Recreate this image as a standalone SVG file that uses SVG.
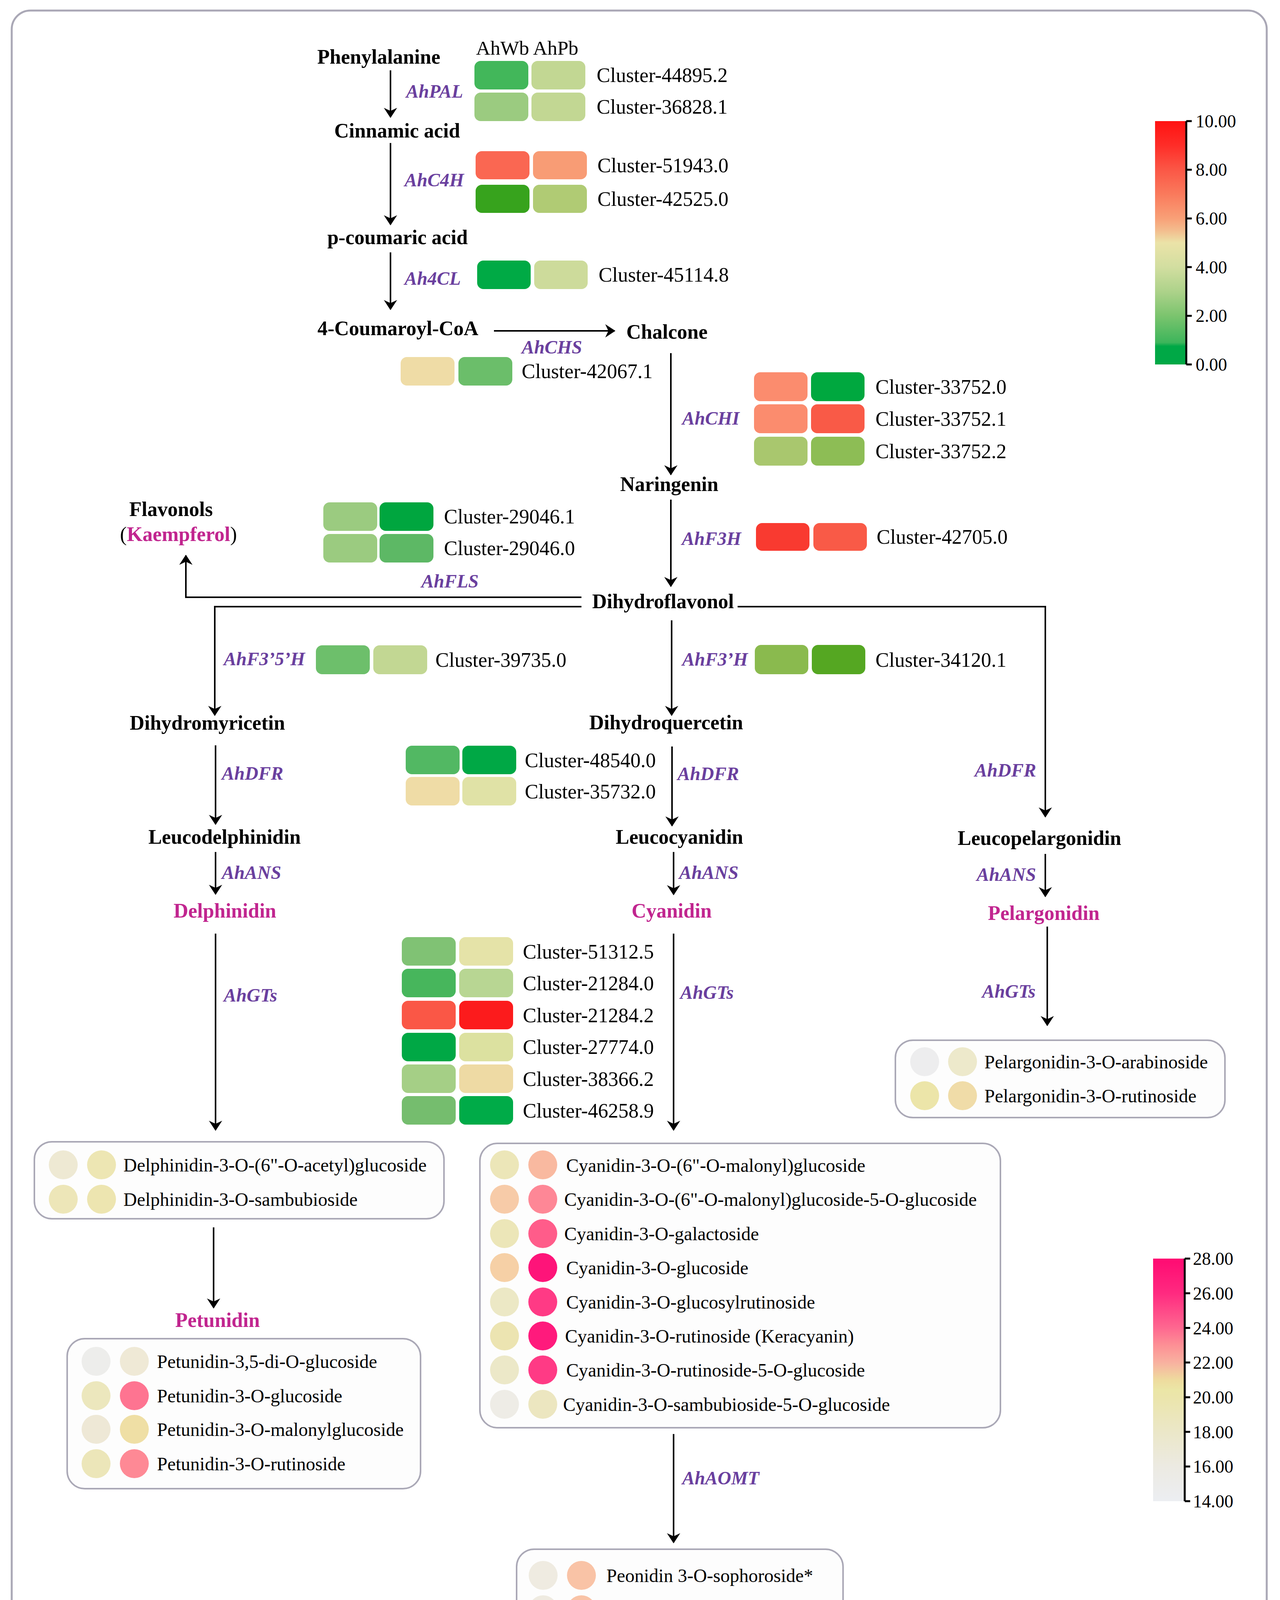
<svg xmlns="http://www.w3.org/2000/svg" width="3278" height="4351" viewBox="0 0 3278 4351">
<defs>
<style>
text{font-family:"Liberation Serif","Times New Roman",serif;}
.m{font-weight:bold;font-size:52px;fill:#000;text-anchor:middle;}
.mg{font-weight:bold;font-size:52px;fill:#c1258f;text-anchor:middle;}
.g{font-weight:bold;font-style:italic;font-size:48px;fill:#6a3f9e;}
.c{font-size:52px;fill:#000;}
.b{font-size:48px;fill:#000;}
.t{font-size:46px;fill:#000;}
.box{fill:#fdfdfd;stroke:#aaa8b6;stroke-width:4;}
.arr{stroke:#000;stroke-width:4;fill:none;marker-end:url(#ah);}
.ax{stroke:#000;stroke-width:5;fill:none;}
</style>
<marker id="ah" viewBox="0 0 26 34" refX="24" refY="17" markerWidth="26" markerHeight="34" orient="auto" markerUnits="userSpaceOnUse">
<path d="M0,0 L26,17 L0,34 L8,17 z" fill="#000"/>
</marker>
<linearGradient id="gr1" x1="0" y1="0" x2="0" y2="1">
<stop offset="0" stop-color="#ff1212"/>
<stop offset="0.1" stop-color="#fe2d28"/>
<stop offset="0.2" stop-color="#fb5746"/>
<stop offset="0.3" stop-color="#fa7a5c"/>
<stop offset="0.4" stop-color="#f8a077"/>
<stop offset="0.45" stop-color="#f3bd8e"/>
<stop offset="0.5" stop-color="#ebe3a8"/>
<stop offset="0.6" stop-color="#d2dea0"/>
<stop offset="0.7" stop-color="#add28a"/>
<stop offset="0.8" stop-color="#7bc46e"/>
<stop offset="0.91" stop-color="#3db55b"/>
<stop offset="0.925" stop-color="#00a846"/>
<stop offset="1" stop-color="#00a846"/>
</linearGradient>
<linearGradient id="gr2" x1="0" y1="0" x2="0" y2="1">
<stop offset="0" stop-color="#ff0a72"/>
<stop offset="0.143" stop-color="#ff2a80"/>
<stop offset="0.286" stop-color="#fe6890"/>
<stop offset="0.357" stop-color="#fd9095"/>
<stop offset="0.43" stop-color="#f8b2a0"/>
<stop offset="0.5" stop-color="#eedb9e"/>
<stop offset="0.54" stop-color="#ebe6a6"/>
<stop offset="0.571" stop-color="#ebe5ab"/>
<stop offset="0.714" stop-color="#ebe7c8"/>
<stop offset="0.857" stop-color="#eceae2"/>
<stop offset="1" stop-color="#eceef2"/>
</linearGradient>
</defs>

<rect id="frame" x="30" y="27" width="3214" height="4293" rx="48" fill="#fff" stroke="#aaa8b6" stroke-width="5"/>

<!-- connectors -->
<g id="connectors">
<line class="arr" x1="1000" y1="180" x2="1000" y2="300"/>
<line class="arr" x1="1000" y1="366" x2="1000" y2="575"/>
<line class="arr" x1="1000" y1="646" x2="1000" y2="792"/>
<line class="arr" x1="1265" y1="847" x2="1574" y2="847" stroke-width="5"/>
<line class="arr" x1="1718" y1="904" x2="1718" y2="1215"/>
<line class="arr" x1="1718" y1="1279" x2="1718" y2="1501"/>
<polyline class="arr" points="1489,1529 476,1529 476,1422"/>
<polyline class="arr" points="1489,1553 550,1553 550,1831"/>
<line class="arr" x1="1720" y1="1588" x2="1720" y2="1831"/>
<polyline class="arr" points="1889,1553 2677,1553 2677,2091"/>
<line class="arr" x1="552" y1="1908" x2="552" y2="2110"/>
<line class="arr" x1="1721" y1="1911" x2="1721" y2="2114"/>
<line class="arr" x1="552" y1="2181" x2="552" y2="2289"/>
<line class="arr" x1="1725" y1="2181" x2="1725" y2="2290"/>
<line class="arr" x1="2677" y1="2186" x2="2677" y2="2295"/>
<line class="arr" x1="552" y1="2390" x2="552" y2="2893"/>
<line class="arr" x1="1725" y1="2390" x2="1725" y2="2893"/>
<line class="arr" x1="2682" y1="2372" x2="2682" y2="2625"/>
<line class="arr" x1="547" y1="3142" x2="547" y2="3348"/>
<line class="arr" x1="1725" y1="3671" x2="1725" y2="3949"/>
</g>

<!-- metabolite nodes -->
<g id="n-phenylalanine"><text class="m" x="970" y="163">Phenylalanine</text></g>
<g id="n-cinnamic"><text class="m" x="1017" y="352">Cinnamic acid</text></g>
<g id="n-pcoumaric"><text class="m" x="1018" y="625">p-coumaric acid</text></g>
<g id="n-coumaroylcoa"><text class="m" x="1019" y="858">4-Coumaroyl-CoA</text></g>
<g id="n-chalcone"><text class="m" x="1708" y="867">Chalcone</text></g>
<g id="n-naringenin"><text class="m" x="1714" y="1257">Naringenin</text></g>
<g id="n-flavonols"><text class="m" x="438" y="1321">Flavonols</text>
<text class="m" x="457" y="1385"><tspan font-weight="normal">(</tspan><tspan fill="#c1258f">Kaempferol</tspan><tspan font-weight="normal">)</tspan></text></g>
<g id="n-dihydroflavonol"><text class="m" x="1698" y="1557">Dihydroflavonol</text></g>
<g id="n-dihydromyricetin"><text class="m" x="531" y="1868">Dihydromyricetin</text></g>
<g id="n-dihydroquercetin"><text class="m" x="1706" y="1867">Dihydroquercetin</text></g>
<g id="n-leucodelphinidin"><text class="m" x="575" y="2160">Leucodelphinidin</text></g>
<g id="n-leucocyanidin"><text class="m" x="1740" y="2160">Leucocyanidin</text></g>
<g id="n-leucopelargonidin"><text class="m" x="2662" y="2163">Leucopelargonidin</text></g>
<g id="n-delphinidin"><text class="mg" x="576" y="2349">Delphinidin</text></g>
<g id="n-cyanidin"><text class="mg" x="1720" y="2349">Cyanidin</text></g>
<g id="n-pelargonidin"><text class="mg" x="2673" y="2355">Pelargonidin</text></g>
<g id="n-petunidin"><text class="mg" x="557" y="3397">Petunidin</text></g>

<!-- gene labels -->
<g id="genes">
<text class="g" x="1040" y="250">AhPAL</text>
<text class="g" x="1036" y="477">AhC4H</text>
<text class="g" x="1036" y="729">Ah4CL</text>
<text class="g" x="1336" y="905">AhCHS</text>
<text class="g" x="1747" y="1087">AhCHI</text>
<text class="g" x="1746" y="1395">AhF3H</text>
<text class="g" x="1079" y="1504">AhFLS</text>
<text class="g" x="573" y="1703">AhF3’5’H</text>
<text class="g" x="1747" y="1704">AhF3’H</text>
<text class="g" x="568" y="1996">AhDFR</text>
<text class="g" x="1735" y="1997">AhDFR</text>
<text class="g" x="2496" y="1988">AhDFR</text>
<text class="g" x="568" y="2250">AhANS</text>
<text class="g" x="1739" y="2250">AhANS</text>
<text class="g" x="2501" y="2255">AhANS</text>
<text class="g" x="573" y="2564">AhGTs</text>
<text class="g" x="1742" y="2557">AhGTs</text>
<text class="g" x="2515" y="2554">AhGTs</text>
<text class="g" x="1747" y="3800">AhAOMT</text>
</g>

<!-- heatmaps -->
<g id="hm-header"><text x="1219" y="140" font-size="51">AhWb AhPb</text></g>
<g id="hm-pal">
<rect x="1215" y="156" width="138" height="73" rx="16" fill="#42b75a"/><rect x="1361" y="156" width="138" height="73" rx="16" fill="#c2d793"/>
<text class="c" x="1528" y="210">Cluster-44895.2</text>
<rect x="1215" y="237" width="138" height="73" rx="16" fill="#9bcb80"/><rect x="1361" y="237" width="138" height="73" rx="16" fill="#c2d793"/>
<text class="c" x="1528" y="291">Cluster-36828.1</text>
</g>
<g id="hm-c4h">
<rect x="1218" y="387" width="138" height="72" rx="16" fill="#fa6752"/><rect x="1365" y="387" width="138" height="72" rx="16" fill="#f89c75"/>
<text class="c" x="1530" y="441">Cluster-51943.0</text>
<rect x="1218" y="473" width="138" height="72" rx="16" fill="#37a31d"/><rect x="1365" y="473" width="138" height="72" rx="16" fill="#b0cb74"/>
<text class="c" x="1530" y="527">Cluster-42525.0</text>
</g>
<g id="hm-4cl">
<rect x="1222" y="667" width="137" height="73" rx="16" fill="#00aa45"/><rect x="1368" y="667" width="137" height="73" rx="16" fill="#cddb9b"/>
<text class="c" x="1533" y="721">Cluster-45114.8</text>
</g>
<g id="hm-chs">
<rect x="1026" y="914" width="138" height="73" rx="16" fill="#efdca6"/><rect x="1174" y="914" width="138" height="73" rx="16" fill="#6bbe6a"/>
<text class="c" x="1336" y="968">Cluster-42067.1</text>
</g>
<g id="hm-chi">
<rect x="1931" y="953" width="137" height="74" rx="16" fill="#fb8c6e"/><rect x="2077" y="953" width="137" height="74" rx="16" fill="#00a83f"/>
<text class="c" x="2242" y="1008">Cluster-33752.0</text>
<rect x="1931" y="1035" width="137" height="74" rx="16" fill="#fb8c6e"/><rect x="2077" y="1035" width="137" height="74" rx="16" fill="#f95a47"/>
<text class="c" x="2242" y="1090">Cluster-33752.1</text>
<rect x="1931" y="1118" width="137" height="74" rx="16" fill="#a9c76e"/><rect x="2077" y="1118" width="137" height="74" rx="16" fill="#8dbd55"/>
<text class="c" x="2242" y="1173">Cluster-33752.2</text>
</g>
<g id="hm-fls">
<rect x="828" y="1286" width="138" height="73" rx="16" fill="#9bcb80"/><rect x="972" y="1286" width="138" height="73" rx="16" fill="#00a63f"/>
<text class="c" x="1137" y="1340">Cluster-29046.1</text>
<rect x="828" y="1367" width="138" height="73" rx="16" fill="#9bcb80"/><rect x="972" y="1367" width="138" height="73" rx="16" fill="#5db865"/>
<text class="c" x="1137" y="1421">Cluster-29046.0</text>
</g>
<g id="hm-f3h">
<rect x="1936" y="1339" width="137" height="71" rx="16" fill="#f93a30"/><rect x="2083" y="1339" width="137" height="71" rx="16" fill="#f95a47"/>
<text class="c" x="2245" y="1392">Cluster-42705.0</text>
</g>
<g id="hm-f35h">
<rect x="809" y="1652" width="138" height="74" rx="16" fill="#6dbf6b"/><rect x="956" y="1652" width="138" height="74" rx="16" fill="#c2d793"/>
<text class="c" x="1115" y="1707">Cluster-39735.0</text>
</g>
<g id="hm-f3ph">
<rect x="1933" y="1651" width="137" height="75" rx="16" fill="#8aba4e"/><rect x="2079" y="1651" width="137" height="75" rx="16" fill="#55a722"/>
<text class="c" x="2242" y="1707">Cluster-34120.1</text>
</g>
<g id="hm-dfr">
<rect x="1039" y="1909" width="138" height="73" rx="16" fill="#52b863"/><rect x="1184" y="1909" width="138" height="73" rx="16" fill="#00a845"/>
<text class="c" x="1344" y="1964">Cluster-48540.0</text>
<rect x="1039" y="1989" width="138" height="73" rx="16" fill="#efdca6"/><rect x="1184" y="1989" width="138" height="73" rx="16" fill="#e0e2a6"/>
<text class="c" x="1344" y="2044">Cluster-35732.0</text>
</g>
<g id="hm-gts">
<rect x="1029" y="2399" width="138" height="73" rx="16" fill="#80c274"/><rect x="1176" y="2399" width="138" height="73" rx="16" fill="#e5e3a8"/>
<text class="c" x="1339" y="2454">Cluster-51312.5</text>
<rect x="1029" y="2480" width="138" height="73" rx="16" fill="#47b65c"/><rect x="1176" y="2480" width="138" height="73" rx="16" fill="#b8d693"/>
<text class="c" x="1339" y="2535">Cluster-21284.0</text>
<rect x="1029" y="2562" width="138" height="73" rx="16" fill="#fa5746"/><rect x="1176" y="2562" width="138" height="73" rx="16" fill="#fc1b1c"/>
<text class="c" x="1339" y="2617">Cluster-21284.2</text>
<rect x="1029" y="2644" width="138" height="73" rx="16" fill="#00a845"/><rect x="1176" y="2644" width="138" height="73" rx="16" fill="#dce1a0"/>
<text class="c" x="1339" y="2698">Cluster-27774.0</text>
<rect x="1029" y="2725" width="138" height="73" rx="16" fill="#a5cf86"/><rect x="1176" y="2725" width="138" height="73" rx="16" fill="#eedaa4"/>
<text class="c" x="1339" y="2780">Cluster-38366.2</text>
<rect x="1029" y="2806" width="138" height="73" rx="16" fill="#75bd6e"/><rect x="1176" y="2806" width="138" height="73" rx="16" fill="#00ab48"/>
<text class="c" x="1339" y="2861">Cluster-46258.9</text>
</g>

<!-- metabolite boxes -->
<g id="box-delphinidin">
<rect class="box" x="88" y="2923" width="1049" height="197" rx="45"/>
<circle cx="162" cy="2982" r="37" fill="#eee9d3"/><circle cx="260" cy="2982" r="37" fill="#ede6b3"/>
<text class="b" x="316" y="2999">Delphinidin-3-O-(6"-O-acetyl)glucoside</text>
<circle cx="162" cy="3070" r="37" fill="#ede6b8"/><circle cx="260" cy="3070" r="37" fill="#ede5b0"/>
<text class="b" x="316" y="3087">Delphinidin-3-O-sambubioside</text>
</g>
<g id="box-petunidin">
<rect class="box" x="172" y="3427" width="905" height="384" rx="45"/>
<circle cx="246" cy="3485" r="37" fill="#ededeb"/><circle cx="344" cy="3485" r="37" fill="#efe9d6"/>
<text class="b" x="402" y="3502">Petunidin-3,5-di-O-glucoside</text>
<circle cx="246" cy="3573" r="37" fill="#ece7bd"/><circle cx="344" cy="3573" r="37" fill="#fe7491"/>
<text class="b" x="402" y="3590">Petunidin-3-O-glucoside</text>
<circle cx="246" cy="3659" r="37" fill="#eee8d6"/><circle cx="344" cy="3659" r="37" fill="#efdfa5"/>
<text class="b" x="402" y="3676">Petunidin-3-O-malonylglucoside</text>
<circle cx="246" cy="3747" r="37" fill="#ece6b9"/><circle cx="344" cy="3747" r="37" fill="#fe8995"/>
<text class="b" x="402" y="3764">Petunidin-3-O-rutinoside</text>
</g>
<g id="box-cyanidin">
<rect class="box" x="1229" y="2927" width="1333" height="728" rx="45"/>
<circle cx="1292" cy="2982" r="37" fill="#ece6b8"/><circle cx="1390" cy="2982" r="37" fill="#f9b9a0"/>
<text class="b" x="1450" y="3000" font-size="53">Cyanidin-3-O-(6"-O-malonyl)glucoside</text>
<circle cx="1292" cy="3070" r="37" fill="#f7cba8"/><circle cx="1390" cy="3070" r="37" fill="#fe8796"/>
<text class="b" x="1445" y="3087">Cyanidin-3-O-(6"-O-malonyl)glucoside-5-O-glucoside</text>
<circle cx="1292" cy="3158" r="37" fill="#ece6b8"/><circle cx="1390" cy="3158" r="37" fill="#ff5c8a"/>
<text class="b" x="1445" y="3175">Cyanidin-3-O-galactoside</text>
<circle cx="1292" cy="3245" r="37" fill="#f6d0a6"/><circle cx="1390" cy="3245" r="37" fill="#fe1479"/>
<text class="b" x="1450" y="3262">Cyanidin-3-O-glucoside</text>
<circle cx="1292" cy="3333" r="37" fill="#ece8c5"/><circle cx="1390" cy="3333" r="37" fill="#ff3a85"/>
<text class="b" x="1450" y="3350">Cyanidin-3-O-glucosylrutinoside</text>
<circle cx="1292" cy="3420" r="37" fill="#ece4b1"/><circle cx="1390" cy="3420" r="37" fill="#ff1a7c"/>
<text class="b" x="1447" y="3437">Cyanidin-3-O-rutinoside (Keracyanin)</text>
<circle cx="1292" cy="3507" r="37" fill="#ece8c8"/><circle cx="1390" cy="3507" r="37" fill="#ff3a85"/>
<text class="b" x="1450" y="3524">Cyanidin-3-O-rutinoside-5-O-glucoside</text>
<circle cx="1292" cy="3595" r="37" fill="#eeece6"/><circle cx="1390" cy="3595" r="37" fill="#ece6c0"/>
<text class="b" x="1442" y="3612">Cyanidin-3-O-sambubioside-5-O-glucoside</text>
</g>
<g id="box-pelargonidin">
<rect class="box" x="2293" y="2663" width="844" height="198" rx="45"/>
<circle cx="2368" cy="2718" r="37" fill="#ededee"/><circle cx="2465" cy="2718" r="37" fill="#ede9cb"/>
<text class="b" x="2521" y="2735">Pelargonidin-3-O-arabinoside</text>
<circle cx="2368" cy="2805" r="37" fill="#ece5a9"/><circle cx="2465" cy="2805" r="37" fill="#f0dca8"/>
<text class="b" x="2521" y="2822">Pelargonidin-3-O-rutinoside</text>
</g>
<g id="box-peonidin">
<rect class="box" x="1323" y="3966" width="836" height="302" rx="45"/>
<circle cx="1391" cy="4033" r="37" fill="#efebe1"/><circle cx="1489" cy="4033" r="37" fill="#f9c3a6"/>
<text class="b" x="1553" y="4050">Peonidin 3-O-sophoroside*</text>
<circle cx="1391" cy="4121" r="37" fill="#efebe1"/><circle cx="1489" cy="4121" r="37" fill="#f9c3a6"/>
<text class="b" x="1553" y="4138">Peonidin-3,5-O-diglucoside*</text>
<circle cx="1391" cy="4208" r="37" fill="#ece6be"/><circle cx="1489" cy="4208" r="37" fill="#ff3d87"/>
<text class="b" x="1553" y="4225">Peonidin-3-O-glucoside</text>
</g>

<!-- color scales -->
<g id="scale-expression">
<rect x="2958" y="310" width="80" height="623" fill="url(#gr1)"/>
<path class="ax" d="M3038,310 V933 M3038,310 H3052 M3038,434.6 H3052 M3038,559.2 H3052 M3038,683.8 H3052 M3038,808.4 H3052 M3038,933 H3052"/>
<text class="t" x="3062" y="326">10.00</text>
<text class="t" x="3062" y="450">8.00</text>
<text class="t" x="3062" y="575">6.00</text>
<text class="t" x="3062" y="700">4.00</text>
<text class="t" x="3062" y="824">2.00</text>
<text class="t" x="3062" y="949">0.00</text>
</g>
<g id="scale-metabolite">
<rect x="2953" y="3222" width="80" height="621" fill="url(#gr2)"/>
<path class="ax" d="M3034,3222 V3843 M3034,3222 H3048 M3034,3310.7 H3048 M3034,3399.4 H3048 M3034,3488.1 H3048 M3034,3576.9 H3048 M3034,3665.6 H3048 M3034,3754.3 H3048 M3034,3843 H3048"/>
<text class="t" x="3055" y="3238">28.00</text>
<text class="t" x="3055" y="3327">26.00</text>
<text class="t" x="3055" y="3416">24.00</text>
<text class="t" x="3055" y="3504">22.00</text>
<text class="t" x="3055" y="3593">20.00</text>
<text class="t" x="3055" y="3682">18.00</text>
<text class="t" x="3055" y="3770">16.00</text>
<text class="t" x="3055" y="3859">14.00</text>
</g>
</svg>
